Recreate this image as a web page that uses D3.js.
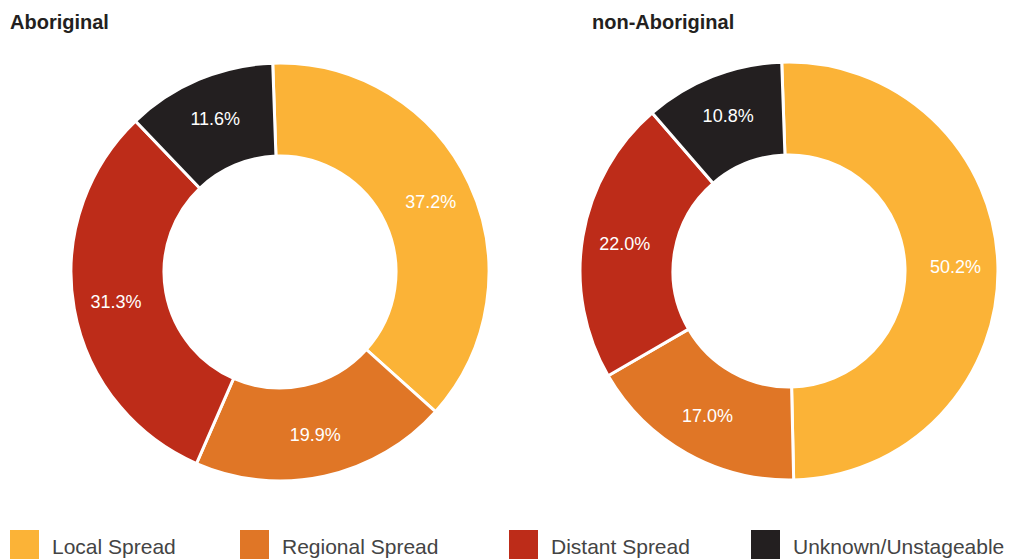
<!DOCTYPE html>
<html>
<head>
<meta charset="utf-8">
<script src="https://cdn.jsdelivr.net/npm/d3@7"></script>
<style>
  body { margin: 0; background: #fff; }
  svg { font-family: "Liberation Sans", Arial, Helvetica, sans-serif; }
  .title { font-weight: bold; font-size: 20px; fill: #231f20; }
  .slice-label { font-size: 18px; fill: #fff; text-anchor: middle; }
  .legend-text { font-size: 21px; fill: #444; }
</style>
</head>
<body>
<svg id="chart" width="1017" height="560"></svg>
<script>
// categories and values
var categories = ["Local Spread", "Regional Spread", "Distant Spread", "Unknown/Unstageable"];
var colors = ["#fbb337", "#e07626", "#bd2c19", "#231f20"];
var groups = ["Aboriginal", "non-Aboriginal"];
var aboriginalValues = [37.2, 19.9, 31.3, 11.6];
var nonAboriginalValues = [50.2, 17.0, 22.0, 10.8];

var svg = d3.select("#chart");

var color = d3.scaleOrdinal()
    .domain(categories)
    .range(colors);

var pie = d3.pie()
    .sort(null)
    .startAngle(-2 * Math.PI / 180)
    .endAngle(2 * Math.PI - 2 * Math.PI / 180)
    .value(function(d) { return d.value; });

var outerR = 209, innerR = 116;
var arc = d3.arc().innerRadius(innerR).outerRadius(outerR);
var labelArc = d3.arc().innerRadius(innerR + 4).outerRadius(outerR + 4);

function drawDonut(title, values, cx, cy, titleX) {
  svg.append("text")
      .attr("class", "title")
      .attr("x", titleX)
      .attr("y", 29)
      .text(title);

  var data = categories.map(function(c, i) { return { key: c, value: values[i] }; });
  var g = svg.append("g").attr("transform", "translate(" + cx + "," + cy + ")");

  g.selectAll("path")
      .data(pie(data))
    .enter().append("path")
      .attr("d", arc)
      .attr("fill", function(d) { return color(d.data.key); })
      .attr("stroke", "#fff")
      .attr("stroke-width", 3);

  g.selectAll("text")
      .data(pie(data))
    .enter().append("text")
      .attr("class", "slice-label")
      .attr("transform", function(d) { return "translate(" + labelArc.centroid(d) + ")"; })
      .attr("dy", "0.35em")
      .text(function(d) { return d.data.value.toFixed(1) + "%"; });
}

drawDonut(groups[0], aboriginalValues, 280, 272, 10);
drawDonut(groups[1], nonAboriginalValues, 789, 271, 592);

// legend
var legendX = d3.scaleOrdinal()
    .domain(categories)
    .range([10, 240, 509, 751]);

var legend = svg.selectAll("g.legend")
    .data(categories)
  .enter().append("g")
    .attr("class", "legend")
    .attr("transform", function(d) { return "translate(" + legendX(d) + ",530)"; });

legend.append("rect")
    .attr("width", 29)
    .attr("height", 29)
    .attr("fill", function(d) { return color(d); });

legend.append("text")
    .attr("class", "legend-text")
    .attr("x", 42)
    .attr("y", 24)
    .text(function(d) { return d; });
</script>
</body>
</html>
